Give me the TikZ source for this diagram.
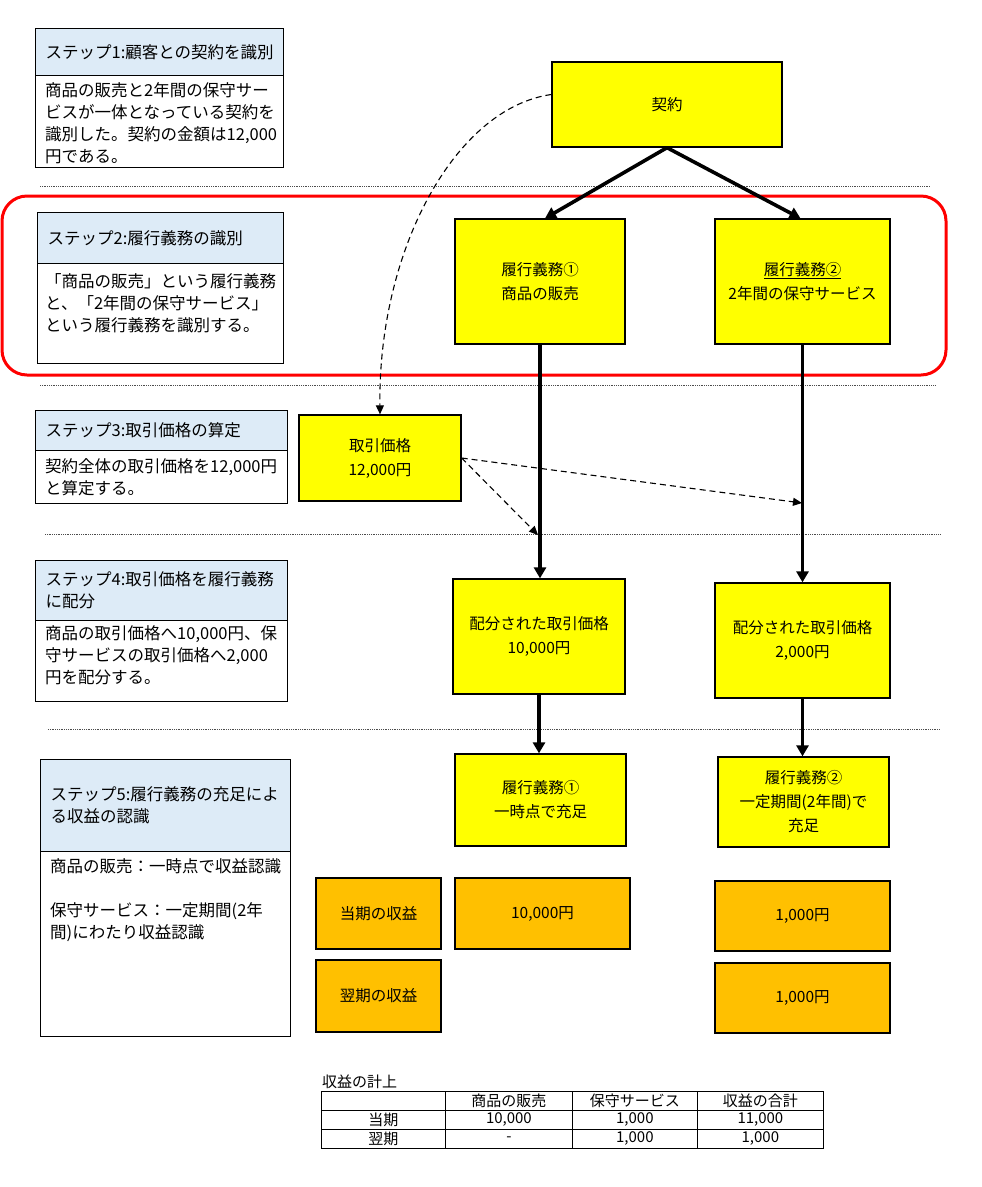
\documentclass[tikz,border=0pt]{standalone}
\usepackage{fontspec}
\setmainfont{Noto Sans CJK JP}
\usetikzlibrary{arrows.meta}
\definecolor{hdrblue}{HTML}{DDEBF7}
\definecolor{ybox}{HTML}{FFFF00}
\definecolor{obox}{HTML}{FFC000}
\begin{document}
\begin{tikzpicture}[x=1pt,y=-1pt,
  stepfont/.style={font=\fontsize{16.5}{22}\selectfont},
  hdr/.style={draw=black, line width=1.3pt, fill=hdrblue, anchor=north west, inner xsep=10pt, inner ysep=0pt, align=left, stepfont},
  bodyb/.style={draw=black, line width=1.3pt, fill=white, anchor=north west, inner sep=0pt},
  btext/.style={anchor=north west, inner sep=0pt, align=left, stepfont},
  ybox/.style={draw=black, line width=1.3pt, fill=ybox, inner sep=0pt, align=center, font=\fontsize{15.5}{24}\selectfont},
  obox/.style={draw=black, line width=1.3pt, fill=obox, inner sep=0pt, align=center, font=\fontsize{15.5}{24}\selectfont},
  sep/.style={black!70, line width=0.8pt, densely dotted},
  thick arrow/.style={line width=3.6pt, -{Triangle[length=11pt,width=12pt]}},
  dash arrow/.style={line width=1.1pt, dashed, dash pattern=on 6pt off 4pt, -{Triangle[length=9pt,width=8pt]}},
  cell/.style={draw=black, line width=0.8pt, minimum height=19pt, inner sep=0pt, anchor=north west, font=\fontsize{15}{16}\selectfont}
]
\useasboundingbox (0,0) rectangle (982,1187);
\fill[white] (0,0) rectangle (982,1187);

% focus frame for step 2
\node[draw=red, line width=3pt, rounded corners=25pt, minimum width=944pt, minimum height=179pt, inner sep=0pt] (focus) at (474,285.5) {};

% separators
\coordinate (l1a) at (40,186);  \coordinate (l1b) at (930,186);
\coordinate (l2a) at (40,385);  \coordinate (l2b) at (935,385);
\coordinate (l3a) at (45,534);  \coordinate (l3b) at (940,534);
\coordinate (l4a) at (48,729);  \coordinate (l4b) at (940,729);
\draw[sep] (l1a) -- (l1b);
\draw[sep] (l2a) -- (l2b);
\draw[sep] (l3a) -- (l3b);
\draw[sep] (l4a) -- (l4b);

% Step 1
\node[hdr, minimum height=47pt, text width=228pt] (s1h) at (35,28) {ステップ1:顧客との契約を識別};
\node[bodyb, minimum width=248pt, minimum height=92pt] (s1b) at (35,75) {};
\node[btext] (s1t) at (45,82) {商品の販売と2年間の保守サー\\ビスが一体となっている契約を\\識別した。契約の金額は12,000\\円である。};

% Step 2
\node[hdr, minimum height=51pt, text width=226pt] (s2h) at (37,212) {ステップ2:履行義務の識別};
\node[bodyb, minimum width=246pt, minimum height=100pt] (s2b) at (37,263) {};
\node[btext] (s2t) at (45,273) {「商品の販売」という履行義務\\と、「2年間の保守サービス」\\という履行義務を識別する。};

% Step 3
\node[hdr, minimum height=40pt, text width=232pt] (s3h) at (35,410) {ステップ3:取引価格の算定};
\node[bodyb, minimum width=252pt, minimum height=53pt] (s3b) at (35,450) {};
\node[btext] (s3t) at (45,458) {契約全体の取引価格を12,000円\\と算定する。};

% Step 4
\node[hdr, minimum height=60pt, text width=232pt] (s4h) at (35,560) {ステップ4:取引価格を履行義務\\に配分};
\node[bodyb, minimum width=252pt, minimum height=81pt] (s4b) at (35,620) {};
\node[btext] (s4t) at (45,625) {商品の取引価格へ10,000円、保\\守サービスの取引価格へ2,000\\円を配分する。};

% Step 5
\node[hdr, minimum height=92pt, text width=230pt] (s5h) at (40,759) {ステップ5:履行義務の充足によ\\る収益の認識};
\node[bodyb, minimum width=250pt, minimum height=185pt] (s5b) at (40,851) {};
\node[btext] (s5t) at (50,858) {商品の販売：一時点で収益認識\\[22pt]保守サービス：一定期間(2年\\間)にわたり収益認識};

% yellow flow boxes
\node[ybox, minimum width=230pt, minimum height=85pt] (k) at (667,104.5) {契約};
\node[ybox, minimum width=170pt, minimum height=125pt] (ob1) at (540,281.5) {履行義務①\\商品の販売};
\node[ybox, minimum width=175pt, minimum height=125pt] (ob2) at (802.5,281.5) {\underline{履行義務②}\\2年間の保守サービス};
\node[ybox, minimum width=162pt, minimum height=86pt] (tp) at (380,458) {取引価格\\12,000円};
\node[ybox, minimum width=172pt, minimum height=115pt] (al1) at (539,636.5) {配分された取引価格\\10,000円};
\node[ybox, minimum width=175pt, minimum height=115pt] (al2) at (802.5,640.5) {配分された取引価格\\2,000円};
\node[ybox, minimum width=171pt, minimum height=92pt] (st1) at (540.5,800) {履行義務①\\一時点で充足};
\node[ybox, minimum width=171pt, minimum height=90pt] (st2) at (803.5,802) {履行義務②\\一定期間(2年間)で\\充足};

% orange revenue boxes
\node[obox, minimum width=125pt, minimum height=71pt] (cur) at (378.5,913.5) {当期の収益};
\node[obox, minimum width=125pt, minimum height=72pt] (nxt) at (378.5,996) {翌期の収益};
\node[obox, minimum width=175pt, minimum height=71pt] (r1) at (542.5,913.5) {10,000円};
\node[obox, minimum width=175pt, minimum height=70pt] (r2a) at (802.5,916) {1,000円};
\node[obox, minimum width=175pt, minimum height=70pt] (r2b) at (802.5,998) {1,000円};

% solid arrows
\draw[thick arrow] (k.south) -- ([xshift=5pt]ob1.north);
\draw[thick arrow] (k.south) -- ([xshift=-2pt]ob2.north);
\draw[thick arrow] (ob1.south) -- (ob1.south |- al1.north);
\draw[thick arrow] (ob2.south) -- (ob2.south |- al2.north);
\draw[thick arrow] (al1.south) -- (al1.south |- st1.north);
\draw[thick arrow] (al2.south) -- (al2.south |- st2.north);

% dashed arrows
\coordinate (d1) at (538,535);
\coordinate (d2) at (802,503);
\draw[dash arrow] ([yshift=10pt]k.west) .. controls (455,108) and (378,250) .. (tp.north);
\draw[dash arrow] (tp.east) -- (d1);
\draw[dash arrow] (tp.east) -- (d2);

% revenue table
\node[anchor=west, inner sep=0pt, font=\fontsize{15}{16}\selectfont] (ttl) at (322,1082) {収益の計上};
\node[cell, minimum width=124pt] (t11) at (321,1091) {};
\node[cell, minimum width=127pt] (t12) at (445,1091) {商品の販売};
\node[cell, minimum width=125pt] (t13) at (572,1091) {保守サービス};
\node[cell, minimum width=126pt] (t14) at (697,1091) {収益の合計};
\node[cell, minimum width=124pt] (t21) at (321,1110) {当期};
\node[cell, minimum width=127pt] (t22) at (445,1110) {10,000};
\node[cell, minimum width=125pt] (t23) at (572,1110) {1,000};
\node[cell, minimum width=126pt] (t24) at (697,1110) {11,000};
\node[cell, minimum width=124pt] (t31) at (321,1129) {翌期};
\node[cell, minimum width=127pt] (t32) at (445,1129) {-};
\node[cell, minimum width=125pt] (t33) at (572,1129) {1,000};
\node[cell, minimum width=126pt] (t34) at (697,1129) {1,000};
\end{tikzpicture}
\end{document}
